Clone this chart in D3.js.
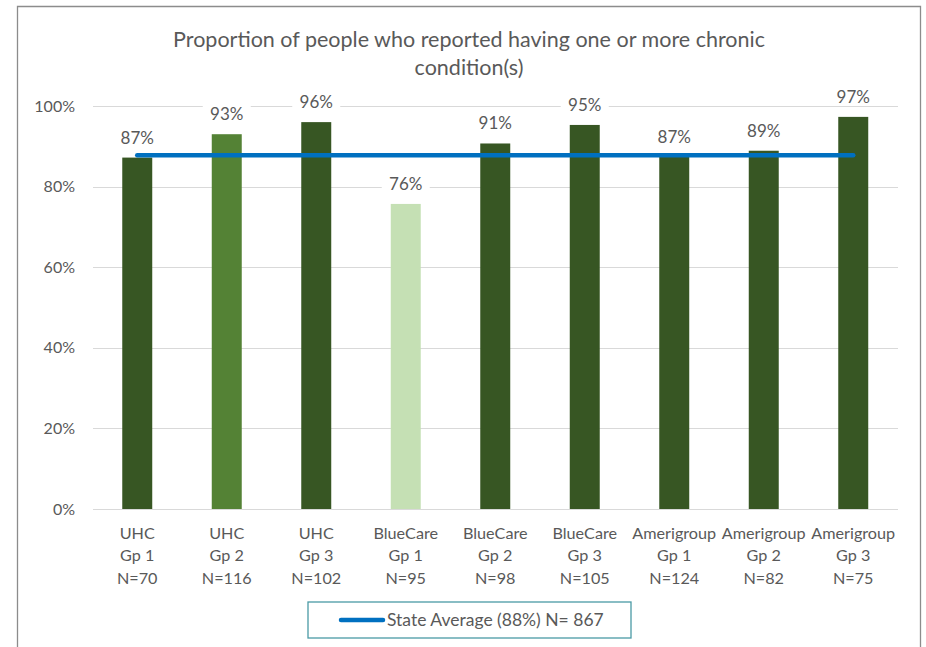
<!DOCTYPE html>
<html><head><meta charset="utf-8">
<script src="https://cdn.jsdelivr.net/npm/d3@7"></script>
<style>body{margin:0;background:#fff;} text{font-family:Lato,"Open Sans",sans-serif;}</style>
</head><body>
<svg id="c" width="926" height="647"></svg>
<script>
const groups = ["UHC","UHC","UHC","BlueCare","BlueCare","BlueCare","Amerigroup","Amerigroup","Amerigroup"];
const subgroups = ["Gp 1","Gp 2","Gp 3","Gp 1","Gp 2","Gp 3","Gp 1","Gp 2","Gp 3"];
const sizes = ["N=70","N=116","N=102","N=95","N=98","N=105","N=124","N=82","N=75"];
const values = [87.2, 93.0, 96.0, 75.7, 90.7, 95.3, 87.4, 88.9, 97.3];
const valueLabels = ["87%","93%","96%","76%","91%","95%","87%","89%","97%"];
const barColors = ["#375623","#548235","#375623","#c5e0b4","#375623","#375623","#375623","#375623","#375623"];
const stateAverage = 87.8;
const legendLabel = "State Average (88%) N= 867";
const yTicks = [0,20,40,60,80,100];
const titleLines = ["Proportion of people who reported having one or more chronic","condition(s)"];

const svg = d3.select("#c");
const ids = d3.range(values.length);
const x = d3.scaleBand().domain(ids).range([92.5, 898]).paddingInner(0.665).paddingOuter(0.3325);
const y = d3.scaleLinear().domain([0,100]).range([509, 106]);

// outer border
svg.append("path").attr("d","M17.5,660 V6.5 H920.5 V660").attr("fill","none").attr("stroke","#8c8c8c").attr("stroke-width",1.3);

// title
svg.append("g").selectAll("text").data(titleLines).join("text")
  .attr("x",469).attr("y",(d,i)=>47+i*28).attr("text-anchor","middle")
  .attr("font-size",21.5).attr("fill","#595959").text(d=>d);

// grid
svg.append("g").selectAll("line").data(yTicks).join("line")
  .attr("x1",93).attr("x2",898).attr("y1",d=>Math.round(y(d))+0.5).attr("y2",d=>Math.round(y(d))+0.5)
  .attr("stroke","#d9d9d9").attr("stroke-width",1.2);
svg.append("g").selectAll("text").data(yTicks).join("text")
  .attr("x",75).attr("y",d=>y(d)+5.5).attr("text-anchor","end")
  .attr("font-size",16).attr("fill","#595959").text(d=>d+"%");

// bars
svg.append("g").selectAll("rect").data(ids).join("rect")
  .attr("x",i=>x(i)).attr("width",x.bandwidth())
  .attr("y",i=>y(values[i])).attr("height",i=>y(0)-y(values[i]))
  .attr("fill",i=>barColors[i]);

// state average line
const cx = i => x(i)+x.bandwidth()/2;
svg.append("line").attr("x1",cx(0)).attr("x2",cx(values.length-1))
  .attr("y1",y(stateAverage)).attr("y2",y(stateAverage))
  .attr("stroke","#0070c0").attr("stroke-width",4.5).attr("stroke-linecap","round");

// data labels
const lg = svg.append("g").selectAll("g").data(ids).join("g");
lg.append("rect").attr("x",i=>cx(i)-24).attr("width",48)
  .attr("y",i=>y(values[i])-32).attr("height",21).attr("fill","#fff");
lg.append("text").attr("x",cx).attr("y",i=>y(values[i])-14).attr("text-anchor","middle")
  .attr("font-size",17).attr("fill","#595959").text(i=>valueLabels[i]);

// x labels
const xl = svg.append("g").selectAll("text").data(ids).join("text")
  .attr("text-anchor","middle").attr("font-size",16.2).attr("fill","#595959");
[groups, subgroups, sizes].forEach((arr,k)=>{
  xl.append("tspan").attr("x",cx).attr("y",538.5+k*22.5).text(i=>arr[i]);
});

// legend
svg.append("rect").attr("x",308).attr("y",602).attr("width",323).attr("height",36)
  .attr("fill","#fff").attr("stroke","#4a9aa5").attr("stroke-width",1.3);
svg.append("line").attr("x1",341).attr("x2",383).attr("y1",620).attr("y2",620)
  .attr("stroke","#0070c0").attr("stroke-width",4.5).attr("stroke-linecap","round");
svg.append("text").attr("x",387).attr("y",626).attr("font-size",17.5).attr("fill","#595959").text(legendLabel);
</script>
</body></html>
